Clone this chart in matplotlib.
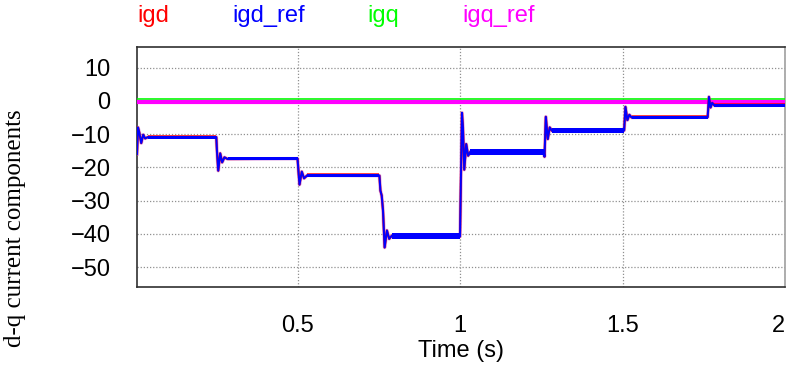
import matplotlib
matplotlib.use('Agg')
import matplotlib.pyplot as plt
from matplotlib import font_manager

# d-axis current waveform: time breakpoints (s) and values (A)
t_igd = [0.006, 0.009, 0.013, 0.019, 0.025, 0.031, 0.040,
         0.250, 0.252, 0.256, 0.262, 0.268, 0.275, 0.285,
         0.500, 0.502, 0.506, 0.513, 0.520, 0.530,
         0.752, 0.755, 0.759, 0.763, 0.768, 0.775, 0.782, 0.790,
         1.000, 1.002, 1.006, 1.009, 1.013, 1.019, 1.025, 1.032,
         1.258, 1.260, 1.264, 1.270, 1.276, 1.283,
         1.505, 1.509, 1.515, 1.521, 1.528,
         1.762, 1.766, 1.771, 1.776, 1.783, 2.000]
igd = [-16.0, -8.0, -9.5, -12.7, -10.2, -11.3, -10.9,
       -10.9, -15.0, -21.0, -15.8, -18.5, -17.0, -17.5,
       -17.4, -20.0, -25.2, -21.3, -23.3, -22.4,
       -22.5, -27.0, -28.5, -33.0, -44.1, -39.0, -41.5, -40.6,
       -40.8, -28.0, -3.6, -8.0, -20.7, -13.0, -16.5, -15.3,
       -15.6, -16.8, -4.8, -11.5, -8.0, -9.0,
       -8.9, -1.8, -5.8, -4.2, -5.0,
       -4.9, 1.2, -2.0, -0.6, -1.4, -1.2]
igd_ref = list(igd)

# steady-state ripple bands between steps
seg_start = [0.040, 0.285, 0.530, 0.790, 1.032, 1.283, 1.528, 1.783]
seg_end = [0.250, 0.500, 0.752, 1.000, 1.258, 1.505, 1.762, 2.000]
seg_level = [-10.9, -17.45, -22.45, -40.7, -15.45, -8.95, -4.95, -1.3]
seg_ripple = [0.45, 0.45, 0.45, 0.9, 0.9, 0.75, 0.5, 0.5]

# q-axis current and its reference
t_igq = [0.0, 2.0]
igq = [0.5, 0.5]
igq_ref = [-0.3, -0.3]

series_names = ['igd', 'igd_ref', 'igq', 'igq_ref']
series_colors = ['#ff0000', '#0000ff', '#00ff00', '#ff00ff']
name_x = [137, 232, 367, 462]

x_ticks = [0.5, 1, 1.5, 2]
y_ticks = [-50, -40, -30, -20, -10, 0, 10]

names = {f.name for f in font_manager.fontManager.ttflist}
sans = 'Liberation Sans Narrow' if 'Liberation Sans Narrow' in names else 'Liberation Sans'

W, H = 790, 374
fig = plt.figure(figsize=(W / 100, H / 100), dpi=100)
ax = fig.add_axes([137 / W, 1 - 287 / H, (785 - 137) / W, (287 - 47) / H])

ax.plot(t_igq, igq, color=series_colors[2], lw=1.2, zorder=3)
ax.plot(t_igq, igq_ref, color=series_colors[3], lw=3.0, zorder=4)

for s, e, lv, rp in zip(seg_start, seg_end, seg_level, seg_ripple):
    ax.fill_between([s, e], lv - rp + 0.15, lv + rp + 0.15,
                    color=series_colors[0], lw=0, alpha=0.7, zorder=4)
    ax.fill_between([s, e], lv - rp, lv + rp,
                    color=series_colors[1], lw=0, zorder=5)

ax.plot(t_igd, igd, color='#c060d0', lw=2.6, alpha=0.5, zorder=3)
ax.plot(t_igd, igd, color=series_colors[0], lw=1.6, zorder=4)
ax.plot(t_igd, igd_ref, color=series_colors[1], lw=1.4, zorder=6)

ax.set_xlim(0.006, 2.0)
ax.set_ylim(-56, 16.2)
ax.set_xticks(x_ticks)
ax.set_xticklabels(['0.5', '1', '1.5', '2'])
ax.set_yticks(y_ticks)
ax.tick_params(length=0, labelsize=17)
ax.tick_params(axis='x', pad=20)
ax.tick_params(axis='y', pad=19)
for lab in ax.get_xticklabels() + ax.get_yticklabels():
    lab.set_family(sans)
ax.get_xticklabels()[-1].set_horizontalalignment('right')
ax.grid(True, color='#909090', linestyle=(0, (1, 1.5)), lw=0.9)
for sp in ax.spines.values():
    sp.set_color('#303030')
    sp.set_linewidth(1.2)
ax.spines['right'].set_color('#a0a0a0')

ax.set_xlabel('Time (s)', family=sans, fontsize=17, labelpad=2)
fig.text(15 / W, 1 - 228 / H, 'd-q current components', family='Liberation Serif',
         fontsize=18, rotation=90, ha='center', va='center')

for name, col, x in zip(series_names, series_colors, name_x):
    fig.text(x / W, 1 - 16 / H, name, color=col, family=sans, fontsize=17,
             ha='left', va='center')

fig.savefig('out.png', dpi=100)
